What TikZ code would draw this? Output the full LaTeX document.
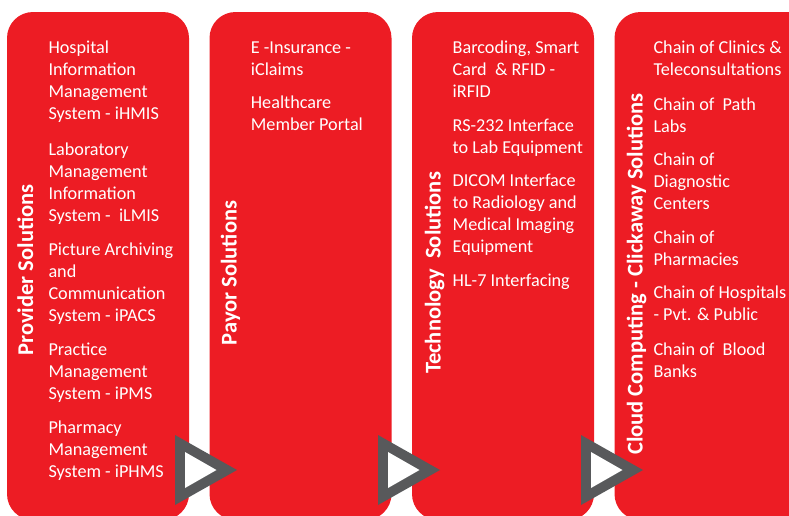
\documentclass[tikz,border=0pt]{standalone}
\usepackage{fontspec}
\setmainfont{Carlito}
\definecolor{boxred}{HTML}{ED1C24}
\definecolor{arrowgray}{HTML}{58595B}
\newcommand{\itemlines}[1]{\begin{tabular}[t]{@{}l@{}}#1\end{tabular}}
\begin{document}
\begin{tikzpicture}[x=1pt,y=-1pt,
  colbox/.style={fill=boxred, draw=none, rounded corners=26pt},
  item/.style={anchor=base west, inner sep=0pt, text=white,
    font=\fontsize{18.2}{22}\selectfont},
  coltitle/.style={anchor=base, rotate=90, inner sep=0pt, text=white,
    font=\fontsize{22.5}{26}\selectfont\bfseries},
]
\useasboundingbox (0,0) rectangle (789,515);
\clip (0,0) rectangle (789,515);
% columns
\path[colbox] (7,12) rectangle (189,520);
\path[colbox] (209.5,12) rectangle (391.5,520);
\path[colbox] (412,12) rectangle (594,520);
\path[colbox] (614.5,12) rectangle (820,520);
% titles
\node[coltitle] (t1) at (33,270) {Provider Solutions};
\node[coltitle] (t2) at (236.5,273) {Payor Solutions};
\node[coltitle] (t3) at (440.5,273) {Technology\ \ Solutions};
\node[coltitle] (t4) at (642.5,274) {Cloud Computing - Clickaway Solutions};
% column 1
\node[item] (a1) at (48.3,53.3) {\itemlines{Hospital\\Information\\Management\\System - iHMIS}};
\node[item] (a2) at (48.3,155) {\itemlines{Laboratory\\Management\\Information\\System -\ \ iLMIS}};
\node[item] (a3) at (48.3,255) {\itemlines{Picture Archiving\\and\\Communication\\System - iPACS}};
\node[item] (a4) at (48.3,355.5) {\itemlines{Practice\\Management\\System - iPMS}};
\node[item] (a5) at (48.3,433.5) {\itemlines{Pharmacy\\Management\\System - iPHMS}};
% column 2
\node[item] (b1) at (250.7,53.3) {\itemlines{E -Insurance -\\iClaims}};
\node[item] (b2) at (250.7,108.3) {\itemlines{Healthcare\\Member Portal}};
% column 3
\node[item] (c1) at (452.5,53.3) {\itemlines{Barcoding, Smart\\Card\ \ \& RFID -\\iRFID}};
\node[item] (c2) at (452.5,131.7) {\itemlines{RS-232 Interface\\to Lab Equipment}};
\node[item] (c3) at (452.5,186.7) {\itemlines{DICOM Interface\\to Radiology and\\Medical Imaging\\Equipment}};
\node[item] (c4) at (452.5,286.7) {\itemlines{HL-7 Interfacing}};
% column 4
\node[item] (d1) at (653.3,53.3) {\itemlines{Chain of Clinics \&\\Teleconsultations}};
\node[item] (d2) at (653.3,110) {\itemlines{Chain of\ \ Path\\Labs}};
\node[item] (d3) at (653.3,165) {\itemlines{Chain of\\Diagnostic\\Centers}};
\node[item] (d4) at (653.3,243.3) {\itemlines{Chain of\\Pharmacies}};
\node[item] (d5) at (653.3,298.3) {\itemlines{Chain of Hospitals\\- Pvt. \& Public}};
\node[item] (d6) at (653.3,355) {\itemlines{Chain of\ \ Blood\\Banks}};
% arrows
\foreach \dx in {0,203,406} {
  \fill[arrowgray] (175+\dx,435) -- (175+\dx,505) -- (237+\dx,470) -- cycle;
  \fill[white] (185+\dx,452) -- (185+\dx,488) -- (216.5+\dx,470) -- cycle;
}
\end{tikzpicture}
\end{document}
